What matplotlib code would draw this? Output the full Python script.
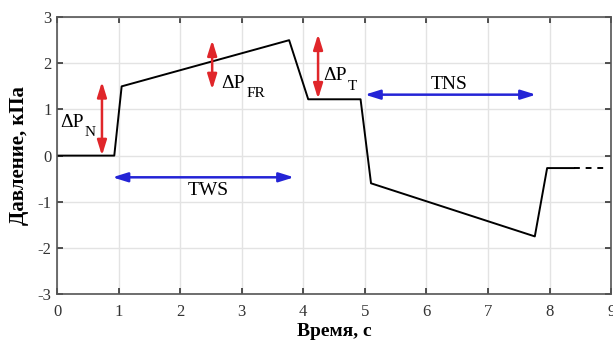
import matplotlib.pyplot as plt
from matplotlib.transforms import offset_copy

plt.rcParams['font.family'] = ['Liberation Serif', 'DejaVu Serif']
plt.rcParams['axes.unicode_minus'] = False

# pressure trace (s, kPa)
t = [0, 0.93, 1.05, 3.77, 4.08, 4.93, 5.1, 7.76, 7.96, 8.4]
p = [0, 0, 1.5, 2.5, 1.22, 1.22, -0.6, -1.75, -0.27, -0.27]
t_tail = [8.4, 8.88]
p_tail = [-0.27, -0.27]

# red double arrows: x, y_low, y_high
d_x = [0.73, 2.52, 4.24]
d_lo = [0.0, 1.43, 1.23]
d_hi = [1.6, 2.5, 2.63]
d_sub = ['N', 'FR', 'T']
d_lab_xy = [(0.05, 0.63), (2.67, 1.47), (4.32, 1.64)]

# blue arrows: y, x_start, x_end, label
b_y = [-0.47, 1.32]
b_x0 = [0.9, 5.0]
b_x1 = [3.85, 7.78]
b_lab = ['TWS', 'TNS']
b_lab_xy = [(2.46, -0.76), (6.37, 1.55)]

fig = plt.figure(figsize=(6.13, 3.42), dpi=100)
ax = fig.add_axes([0.093, 0.140, 0.904, 0.810])

ax.plot(t, p, color='black', lw=1.4)
ax.plot(t_tail, p_tail, color='black', lw=1.4, ls=(0, (3, 3)))

red = '#e0262a'
blue = '#2424d6'
head = ',head_length=0.9,head_width=0.28'
for x, lo, hi in zip(d_x, d_lo, d_hi):
    ax.annotate('', xy=(x, hi), xytext=(x, lo),
                arrowprops=dict(arrowstyle='<|-|>' + head,
                                color=red, lw=1.8, shrinkA=0, shrinkB=0))

for y, x0, x1 in zip(b_y, b_x0, b_x1):
    ax.annotate('', xy=(x1, y), xytext=(x0, y),
                arrowprops=dict(arrowstyle='<|-|>' + head,
                                color=blue, lw=1.8, shrinkA=0, shrinkB=0))

for lab, (lx, ly) in zip(b_lab, b_lab_xy):
    ax.text(lx, ly, lab, fontsize=14, ha='center', va='center')

# delta P labels with a low subscript
fig.canvas.draw()
r = fig.canvas.get_renderer()
for sub, (lx, ly) in zip(d_sub, d_lab_xy):
    main = ax.text(lx, ly, '\u0394P', fontsize=14, ha='left', va='baseline')
    w = main.get_window_extent(r).width * 72 / fig.dpi
    tr = offset_copy(ax.transData, fig=fig, x=w + 1, y=-7, units='points')
    ax.text(lx, ly, sub, fontsize=11, ha='left', va='baseline', transform=tr)

ax.set_xlim(0, 9)
ax.set_ylim(-3, 3)
ax.set_xticks(range(0, 10))
ax.set_yticks(range(-3, 4))
ax.grid(True, color='#e3e3e3', lw=1)
ax.set_axisbelow(True)
ax.tick_params(direction='in', top=True, right=True, labelsize=12,
               colors='#333333', length=4, width=1.2)
ax.tick_params(axis='x', pad=7)
ax.tick_params(axis='y', pad=4)
for s in ax.spines.values():
    s.set_color('#555555')
    s.set_linewidth(1.2)

ax.set_xlabel('Время, с', fontsize=14, fontweight='bold', labelpad=2)
ax.set_ylabel('Давление, кПа', fontsize=15, fontweight='bold', labelpad=6)

fig.savefig('out.png', dpi=100)
